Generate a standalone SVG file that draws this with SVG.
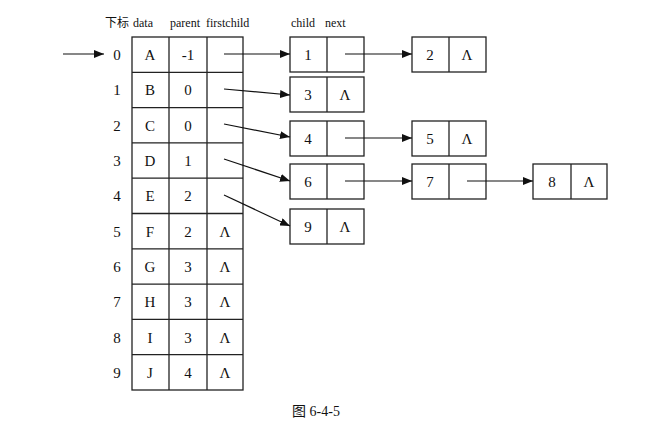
<svg xmlns="http://www.w3.org/2000/svg" width="669" height="432" viewBox="0 0 669 432">
<style>
.c{fill:none;stroke:#222;stroke-width:1.3}
.t{font-family:"Liberation Serif","Noto Sans CJK SC",serif;font-size:15px;fill:#111;text-anchor:middle}
.h{font-family:"Liberation Serif","Noto Sans CJK SC",serif;font-size:12px;fill:#111}
.a{stroke:#111;stroke-width:1.2;fill:none;marker-end:url(#ar)}
</style>
<defs>
<marker id="ar" viewBox="0 0 10 8" refX="10" refY="4" markerWidth="10" markerHeight="8" markerUnits="userSpaceOnUse" orient="auto">
<path d="M0,0 L10,4 L0,8 Z" fill="#111"/>
</marker>
</defs>
<rect width="669" height="432" fill="#fff"/>
<g id="header">
<text class="h" x="105" y="27" font-family="Noto Sans CJK SC" font-size="11" fill="#444">下标</text>
<text class="h" x="133" y="27">data</text>
<text class="h" x="170" y="27">parent</text>
<text class="h" x="206" y="27">firstchild</text>
<text class="h" x="291" y="27">child</text>
<text class="h" x="325" y="27">next</text>
</g>
<g id="table">
<rect class="c" x="132" y="37" width="111" height="353"/>
<line class="c" x1="169" y1="37" x2="169" y2="390"/>
<line class="c" x1="207" y1="37" x2="207" y2="390"/>
<line class="c" x1="132" y1="72.3" x2="243" y2="72.3"/>
<line class="c" x1="132" y1="107.6" x2="243" y2="107.6"/>
<line class="c" x1="132" y1="142.9" x2="243" y2="142.9"/>
<line class="c" x1="132" y1="178.2" x2="243" y2="178.2"/>
<line class="c" x1="132" y1="213.5" x2="243" y2="213.5"/>
<line class="c" x1="132" y1="248.8" x2="243" y2="248.8"/>
<line class="c" x1="132" y1="284.1" x2="243" y2="284.1"/>
<line class="c" x1="132" y1="319.4" x2="243" y2="319.4"/>
<line class="c" x1="132" y1="354.7" x2="243" y2="354.7"/>
<g class="t">
<text x="117" y="60">0</text><text x="150" y="60">A</text><text x="188" y="60">-1</text>
<text x="117" y="95">1</text><text x="150" y="95">B</text><text x="188" y="95">0</text>
<text x="117" y="131">2</text><text x="150" y="131">C</text><text x="188" y="131">0</text>
<text x="117" y="166">3</text><text x="150" y="166">D</text><text x="188" y="166">1</text>
<text x="117" y="201">4</text><text x="150" y="201">E</text><text x="188" y="201">2</text>
<text x="117" y="237">5</text><text x="150" y="237">F</text><text x="188" y="237">2</text><text x="225" y="237">Λ</text>
<text x="117" y="272">6</text><text x="150" y="272">G</text><text x="188" y="272">3</text><text x="225" y="272">Λ</text>
<text x="117" y="307">7</text><text x="150" y="307">H</text><text x="188" y="307">3</text><text x="225" y="307">Λ</text>
<text x="117" y="343">8</text><text x="150" y="343">I</text><text x="188" y="343">3</text><text x="225" y="343">Λ</text>
<text x="117" y="378">9</text><text x="150" y="378">J</text><text x="188" y="378">4</text><text x="225" y="378">Λ</text>
</g>
</g>
<g id="n1"><rect class="c" x="290" y="37" width="74" height="35"/><line class="c" x1="327" y1="37" x2="327" y2="72"/><text class="t" x="308" y="60">1</text></g>
<g id="n2"><rect class="c" x="412" y="37" width="74" height="35"/><line class="c" x1="449" y1="37" x2="449" y2="72"/><text class="t" x="430" y="60">2</text><text class="t" x="467" y="60">Λ</text></g>
<g id="n3"><rect class="c" x="290" y="77" width="74" height="35"/><line class="c" x1="327" y1="77" x2="327" y2="112"/><text class="t" x="308" y="100">3</text><text class="t" x="345" y="100">Λ</text></g>
<g id="n4"><rect class="c" x="290" y="121" width="74" height="35"/><line class="c" x1="327" y1="121" x2="327" y2="156"/><text class="t" x="308" y="144">4</text></g>
<g id="n5"><rect class="c" x="412" y="121" width="74" height="35"/><line class="c" x1="449" y1="121" x2="449" y2="156"/><text class="t" x="430" y="144">5</text><text class="t" x="467" y="144">Λ</text></g>
<g id="n6"><rect class="c" x="290" y="164" width="74" height="35"/><line class="c" x1="327" y1="164" x2="327" y2="199"/><text class="t" x="308" y="187">6</text></g>
<g id="n7"><rect class="c" x="412" y="164" width="74" height="35"/><line class="c" x1="449" y1="164" x2="449" y2="199"/><text class="t" x="430" y="187">7</text></g>
<g id="n8"><rect class="c" x="533" y="164" width="74" height="35"/><line class="c" x1="571" y1="164" x2="571" y2="199"/><text class="t" x="552" y="187">8</text><text class="t" x="589" y="187">Λ</text></g>
<g id="n9"><rect class="c" x="290" y="209" width="74" height="35"/><line class="c" x1="327" y1="209" x2="327" y2="244"/><text class="t" x="308" y="232">9</text><text class="t" x="345" y="232">Λ</text></g>
<g id="connectors">
<line class="a" x1="63" y1="54" x2="104" y2="54"/>
<line class="a" x1="224" y1="54" x2="290" y2="54"/>
<line class="a" x1="224" y1="89" x2="290" y2="95"/>
<line class="a" x1="224" y1="124" x2="290" y2="137"/>
<line class="a" x1="224" y1="159" x2="290" y2="181"/>
<line class="a" x1="224" y1="195" x2="290" y2="226"/>
<line class="a" x1="345" y1="54" x2="412" y2="54"/>
<line class="a" x1="345" y1="138" x2="412" y2="138"/>
<line class="a" x1="345" y1="181" x2="412" y2="181"/>
<line class="a" x1="467" y1="181" x2="533" y2="181"/>
</g>
<text id="caption" x="316" y="416" text-anchor="middle" font-family="Liberation Serif,Noto Sans CJK SC,serif" font-size="14" fill="#111"><tspan font-family="Noto Sans CJK SC">图</tspan> 6-4-5</text>
</svg>
